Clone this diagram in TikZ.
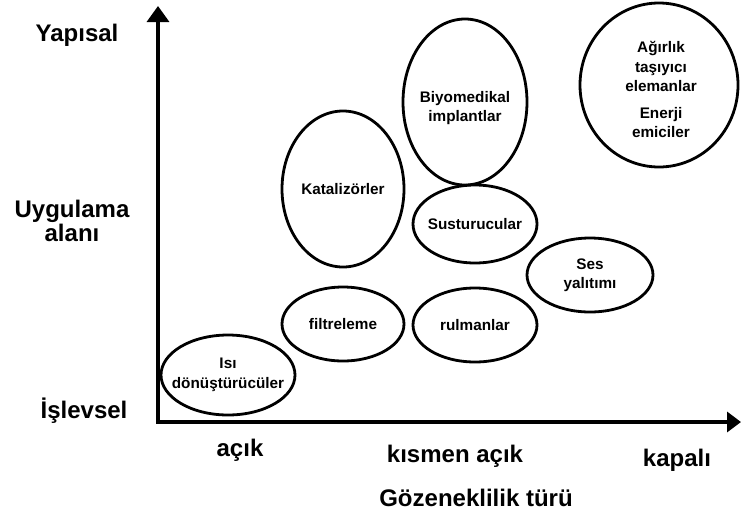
\documentclass[tikz,border=0pt]{standalone}
\usepackage{fontspec}
\setmainfont{Liberation Sans}
\usetikzlibrary{shapes.geometric,arrows.meta}
\begin{document}
\begin{tikzpicture}[x=1pt,y=-1pt,
  axislabel/.style={font=\fontsize{24}{21}\selectfont\bfseries, align=center, inner sep=0pt},
  blob/.style={ellipse, draw, line width=2.8pt, inner sep=0pt},
  blobtext/.style={align=center, inner sep=0pt, font=\fontsize{15.3}{19.5}\selectfont\bfseries},
  axisline/.style={line width=3.4pt, line join=miter}
]
\useasboundingbox (0,0) rectangle (741,520);
% axes
\coordinate (O) at (158,422);
\coordinate (ytip) at (158,6);
\coordinate (xtip) at (741,422);
\draw[axisline, {Triangle[length=16pt,width=22pt]}-{Triangle[length=14pt,width=20pt]}] (ytip) -- (O) -- (xtip);
% axis labels
\node[axislabel] (yap) at (77,35) {Yapısal};
\node[axislabel] (uyg) at (72,221) {Uygulama\\alanı};
\node[axislabel] (isl) at (84,411) {İşlevsel};
\node[axislabel] (acik) at (240,450) {açık};
\node[axislabel] (kism) at (455,456) {kısmen açık};
\node[axislabel] (kap) at (677,460) {kapalı};
\node[axislabel] (goz) at (476,498) {Gözeneklilik türü};
% ellipses
\node[blob, minimum width=134pt, minimum height=80pt] (isi) at (228,375) {};
\node[blobtext] (isit) at (isi.center) {Isı\\dönüştürücüler};
\node[blob, minimum width=122pt, minimum height=74pt] (filt) at (343,324) {};
\node[blobtext] (filtt) at (filt.center) {filtreleme};
\node[blob, minimum width=124pt, minimum height=74pt] (rulm) at (475,325) {};
\node[blobtext] (rulmt) at (rulm.center) {rulmanlar};
\node[blob, minimum width=126pt, minimum height=74pt] (ses) at (590,275) {};
\node[blobtext] (sest) at (ses.center) {Ses\\yalıtımı};
\node[blob, minimum width=124pt, minimum height=78pt] (sust) at (475,224) {};
\node[blobtext] (sustt) at (sust.center) {Susturucular};
\node[blob, minimum width=124pt, minimum height=166pt] (biyo) at (465,102) {};
\node[blobtext] (biyot) at ([yshift=-6pt]biyo.center) {Biyomedikal\\implantlar};
\node[blob, minimum width=122pt, minimum height=156pt] (kata) at (343,189) {};
\node[blobtext] (katat) at (kata.center) {Katalizörler};
\node[blob, minimum width=158pt, minimum height=164pt] (agir) at (659,85) {};
\node[blobtext] (agirt) at ([xshift=2pt,yshift=-4.5pt]agir.center) {Ağırlık\\taşıyıcı\\elemanlar\\[7pt]Enerji\\emiciler};
\end{tikzpicture}
\end{document}
